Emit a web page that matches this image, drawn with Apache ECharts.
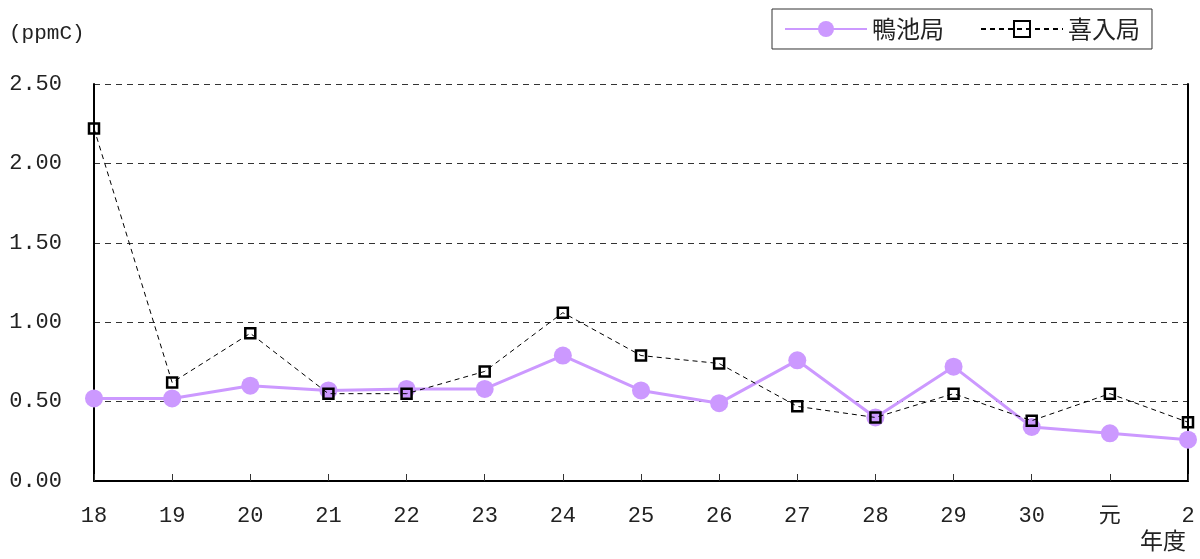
<!DOCTYPE html>
<html>
<head>
<meta charset="utf-8">
<script src="https://cdn.jsdelivr.net/npm/echarts@6/dist/echarts.min.js"></script>
<style>
  html, body { margin: 0; padding: 0; background: #fff; }
  #chart { width: 1200px; height: 559px; }
</style>
</head>
<body>
<div id="chart"></div>
<script>
// 年度
const years = ['18', '19', '20', '21', '22', '23', '24', '25', '26', '27', '28', '29', '30', '元', '2']
// 鴨池局
const kamoike = [0.52, 0.52, 0.60, 0.57, 0.58, 0.58, 0.79, 0.57, 0.49, 0.76, 0.40, 0.72, 0.34, 0.30, 0.26]
// 喜入局
const kiire = [2.22, 0.62, 0.93, 0.55, 0.55, 0.69, 1.06, 0.79, 0.74, 0.47, 0.40, 0.55, 0.38, 0.55, 0.37]

const numFont = '"Liberation Mono", "Noto Sans CJK JP", monospace'
const cjkFont = '"Noto Sans CJK JP", sans-serif'

const chart = echarts.init(document.getElementById('chart'))

const option = {
  animation: false,
  backgroundColor: '#fff',
  grid: { left: 94, right: 12, top: 84, bottom: 78 },
  title: {
    text: '(ppmC)',
    left: 4,
    top: 18,
    textStyle: { fontFamily: numFont, fontSize: 21, fontWeight: 'normal', color: '#222' }
  },
  legend: {
    left: 772,
    top: 9,
    width: 382,
    height: 40,
    padding: [8, 12, 8, 12],
    borderColor: '#333',
    borderWidth: 1,
    itemWidth: 82,
    itemHeight: 20,
    itemGap: 36,
    textStyle: { fontFamily: cjkFont, fontSize: 24, color: '#222' },
    data: ['鴨池局', '喜入局']
  },
  xAxis: {
    type: 'category',
    data: years,
    boundaryGap: false,
    axisLine: { lineStyle: { color: '#000', width: 2 } },
    axisTick: { show: true, inside: true, length: 7, lineStyle: { color: '#333' } },
    axisLabel: { margin: 24, fontFamily: numFont, fontSize: 22, color: '#222' },
    name: '年度',
    nameLocation: 'end',
    nameGap: 0,
    nameTextStyle: {
      fontFamily: cjkFont, fontSize: 23, color: '#222',
      align: 'right', verticalAlign: 'top', padding: [48, 2, 0, 0]
    }
  },
  yAxis: [
    {
      type: 'value',
      min: 0,
      max: 2.5,
      interval: 0.5,
      axisLine: { show: true, lineStyle: { color: '#000', width: 2 } },
      axisTick: { show: false },
      axisLabel: {
        margin: 32,
        fontFamily: numFont,
        fontSize: 22,
        color: '#222',
        formatter: v => v.toFixed(2)
      },
      splitLine: { show: true, lineStyle: { color: '#333', type: [6, 5], width: 1 } }
    },
    {
      type: 'value',
      min: 0,
      max: 2.5,
      position: 'right',
      axisLine: { show: true, lineStyle: { color: '#000', width: 2 } },
      axisTick: { show: false },
      axisLabel: { show: false },
      splitLine: { show: false }
    }
  ],
  series: [
    {
      name: '鴨池局',
      type: 'line',
      data: kamoike,
      symbol: 'circle',
      symbolSize: 18,
      z: 2,
      itemStyle: { color: '#CC99FF' },
      lineStyle: { color: '#CC99FF', width: 3 }
    },
    {
      name: '喜入局',
      type: 'line',
      data: kiire,
      symbol: 'rect',
      symbolSize: 10,
      z: 3,
      itemStyle: { color: 'rgba(0,0,0,0)', borderColor: '#000', borderWidth: 2.5 },
      lineStyle: { color: '#000', width: 1, type: [5, 4] }
    }
  ]
}

chart.setOption(option)
</script>
</body>
</html>
